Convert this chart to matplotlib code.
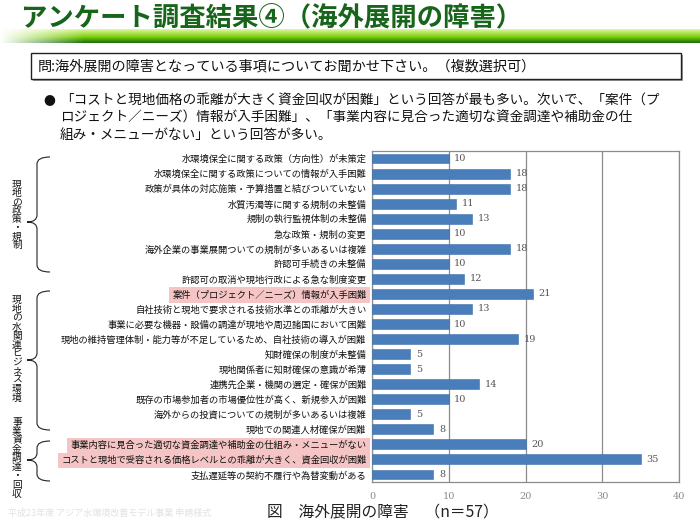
import matplotlib
matplotlib.use("Agg")
import matplotlib.pyplot as plt
import numpy as np
from matplotlib.path import Path
from matplotlib.patches import PathPatch, Rectangle

plt.rcParams['font.family'] = ['Noto Sans CJK JP', 'DejaVu Sans']

# ---------------- data ----------------
categories = [
    "水環境保全に関する政策（方向性）が未策定",
    "水環境保全に関する政策についての情報が入手困難",
    "政策が具体の対応施策・予算措置と結びついていない",
    "水質汚濁等に関する規制の未整備",
    "規制の執行監視体制の未整備",
    "急な政策・規制の変更",
    "海外企業の事業展開ついての規制が多いあるいは複雑",
    "許認可手続きの未整備",
    "許認可の取消や現地行政による急な制度変更",
    "案件（プロジェクト／ニーズ）情報が入手困難",
    "自社技術と現地で要求される技術水準との乖離が大きい",
    "事業に必要な機器・設備の調達が現地や周辺諸国において困難",
    "現地の維持管理体制・能力等が不足しているため、自社技術の導入が困難",
    "知財確保の制度が未整備",
    "現地関係者に知財確保の意識が希薄",
    "連携先企業・機関の選定・確保が困難",
    "既存の市場参加者の市場優位性が高く、新規参入が困難",
    "海外からの投資についての規制が多いあるいは複雑",
    "現地での関連人材確保が困難",
    "事業内容に見合った適切な資金調達や補助金の仕組み・メニューがない",
    "コストと現地で受容される価格レベルとの乖離が大きく、資金回収が困難",
    "支払遅延等の契約不履行や為替変動がある",
]
values = [10, 18, 18, 11, 13, 10, 18, 10, 12, 21, 13, 10, 19, 5, 5, 14, 10, 5, 8, 20, 35, 8]
highlighted = [9, 19, 20]
group_names = ["現地の政策・規制", "現地の水関連ビジネス環境", "事業資金調達・回収"]
x_ticks = [0, 10, 20, 30, 40]

title = "アンケート調査結果④（海外展開の障害）"
question = "問:海外展開の障害となっている事項についてお聞かせ下さい。（複数選択可）"
bullet_lines = [
    "「コストと現地価格の乖離が大きく資金回収が困難」という回答が最も多い。次いで、「案件（プ",
    "ロジェクト／ニーズ）情報が入手困難」、「事業内容に見合った適切な資金調達や補助金の仕",
    "組み・メニューがない」という回答が多い。",
]
caption = "図　海外展開の障害　（n＝57）"
footer = "平成23年度 アジア水環境改善モデル事業 申請様式"

# ---------------- figure ----------------
W, H = 700, 525
fig = plt.figure(figsize=(7, 5.25), dpi=100)
fig.patch.set_facecolor("white")

# overlay in pixel coordinates
ov = fig.add_axes([0, 0, 1, 1], zorder=0)
ov.set_xlim(0, W)
ov.set_ylim(H, 0)
ov.axis("off")

# green gradient bar under title
ny, nx = 14, 700
t = np.linspace(0, 1, ny)[:, None]
top = np.array([0.86, 0.96, 0.62])
mid = np.array([0.50, 0.82, 0.05])
bot = np.array([0.12, 0.45, 0.05])
col = np.where(t < 0.55, top + (mid - top) * (t / 0.55)[..., None].squeeze(-1)[..., None] if False else 0, 0)
img = np.zeros((ny, nx, 4))
for i in range(ny):
    f = i / (ny - 1)
    if f < 0.55:
        c = top + (mid - top) * (f / 0.55)
    else:
        c = mid + (bot - mid) * ((f - 0.55) / 0.45)
    img[i, :, :3] = c
alpha = np.clip(np.linspace(0, 1, nx) / 0.12, 0, 1)
img[:, :, 3] = alpha[None, :]
ov.imshow(img, extent=(0, 700, 43, 29), aspect="auto", zorder=1, interpolation="bilinear")

ov.text(21, 19, title, fontsize=19, fontweight="bold", color="#17651a",
        va="center", ha="left", zorder=3)

# question box with shadow
ov.add_patch(Rectangle((33, 55), 650, 26, facecolor="#9a9a9a", edgecolor="none", zorder=2))
ov.add_patch(Rectangle((31, 53), 650, 26, facecolor="white", edgecolor="#222222", lw=1.0, zorder=3))
ov.text(38, 66, question, fontsize=10.2, va="center", ha="left", color="#111111", zorder=4)

# bullet text
ov.text(43, 101, "●", fontsize=8.5, va="center", ha="left", color="#111111")
for k, line in enumerate(bullet_lines):
    ov.text(60, 101 + 17 * k, line, fontsize=9.8, va="center", ha="left", color="#111111")

# caption and footer
ov.text(267, 513, caption, fontsize=11.3, va="center", ha="left", color="#222222")
ov.text(8, 513, footer, fontsize=6.5, va="center", ha="left", color="#e2e2e2")

# ---------------- chart ----------------
ax_left, ax_right, ax_top, ax_bot = 372, 679, 151, 482
ax = fig.add_axes([ax_left / W, 1 - ax_bot / H, (ax_right - ax_left) / W, (ax_bot - ax_top) / H], zorder=2)
ax.patch.set_alpha(0)
n = len(categories)
ypos = np.arange(n)
ax.barh(ypos, values, height=0.66, color="#4a7ebb", edgecolor="#3f70aa", lw=0.4, zorder=3)
ax.set_ylim(n - 0.5, -0.5)
ax.set_xlim(0, 40)
ax.set_xticks(x_ticks)
ax.set_xticklabels([str(v) for v in x_ticks], fontsize=7, color="#8a8a8a", family="DejaVu Serif")
ax.tick_params(axis="x", length=0, pad=7)
ax.set_yticks(ypos)
ax.set_yticklabels(categories, fontsize=6.7, color="#111111")
ax.tick_params(axis="y", length=0, pad=4)
for i, lab in enumerate(ax.get_yticklabels()):
    if i in highlighted:
        lab.set_bbox(dict(facecolor="#f5c4c4", edgecolor="none", pad=2.2))
ax.grid(axis="x", color="#8c8c8c", lw=0.9, zorder=1)
ax.grid(axis="y", visible=False)
for s in ax.spines.values():
    s.set_color("#8c8c8c")
    s.set_linewidth(0.9)
for i, v in enumerate(values):
    ax.annotate(str(v), (v, i), xytext=(4, 0), textcoords="offset points",
                fontsize=7, color="#555555", va="center", ha="left", family="DejaVu Serif")

# ---------------- group braces and labels ----------------
row_h = (ax_bot - ax_top) / n

def brace(y0, y1, ym, x_end=50, x_mid=37, x_tip=27, r=7):
    verts = [
        (x_end, y0),
        (x_mid, y0), (x_mid, y0 + r),
        (x_mid, ym - r),
        (x_mid, ym), (x_tip, ym),
        (x_mid, ym), (x_mid, ym + r),
        (x_mid, y1 - r),
        (x_mid, y1), (x_end, y1),
    ]
    codes = [Path.MOVETO,
             Path.CURVE3, Path.CURVE3,
             Path.LINETO,
             Path.CURVE3, Path.CURVE3,
             Path.CURVE3, Path.CURVE3,
             Path.LINETO,
             Path.CURVE3, Path.CURVE3]
    ov.add_patch(PathPatch(Path(verts, codes), facecolor="none", edgecolor="#222222", lw=0.8, zorder=3))

brace(157, 272, 222)
brace(291, 430, 360)
brace(441, 481, 460)

def vtext(text, yc, step, x=17):
    m = len(text)
    y0 = yc - step * (m - 1) / 2
    for k, ch in enumerate(text):
        ov.text(x, y0 + k * step, ch, fontsize=7, ha="center", va="center", color="#111111")

vtext(group_names[0], 215, 8.7)
vtext(group_names[1], 349, 8.9)
vtext(group_names[2], 458, 9.0)

fig.savefig("out.png", dpi=100)
